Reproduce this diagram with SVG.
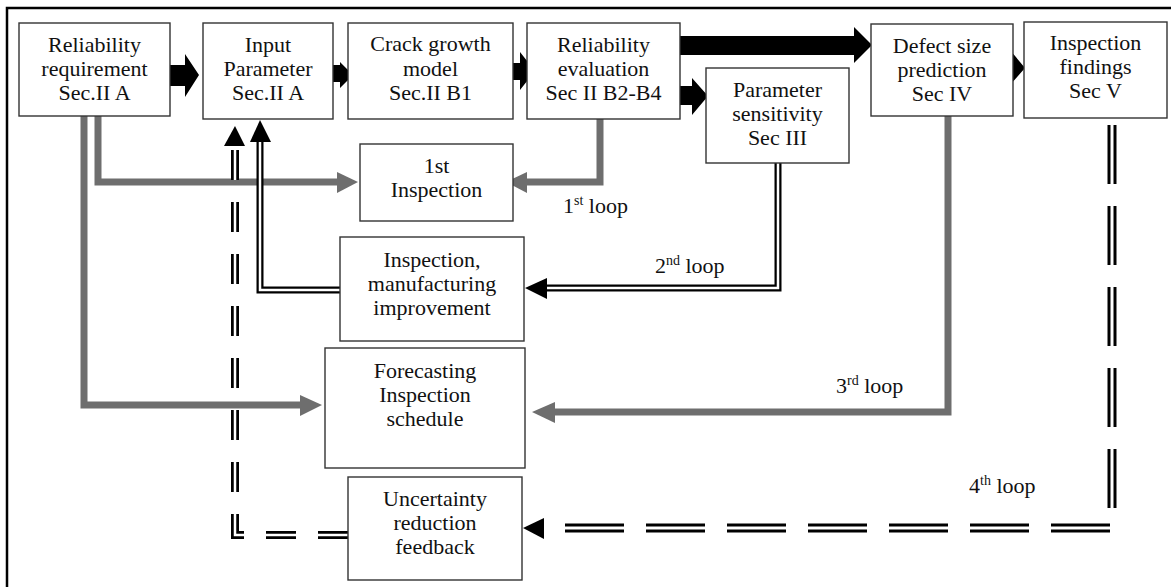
<svg xmlns="http://www.w3.org/2000/svg" width="1171" height="587" viewBox="0 0 1171 587">
<style>
.box{fill:#fff;stroke:#333;stroke-width:1.4}
.t{font-family:'Liberation Serif',serif;font-size:22px;fill:#111;text-anchor:middle}
.lbl{font-family:'Liberation Serif',serif;font-size:22px;fill:#111}
.sup{font-size:14px}
.gray{fill:none;stroke:#6e6e6e;stroke-width:7}
.gh{fill:#6e6e6e}
.blk{fill:#000}
.dbo{fill:none;stroke:#000;stroke-width:7}
.dbi{fill:none;stroke:#fff;stroke-width:2.5}
</style>
<rect width="1171" height="587" fill="#fff"/>
<path d="M7,587 V8 H1171" fill="none" stroke="#000" stroke-width="2.5"/>

<g id="connectors">
  <polygon class="blk" points="170,65 185,65 185,54 199,75 185,97 185,86 170,86"/>
  <polygon class="blk" points="333,65 340,65 340,62 353,75 340,88 340,82 333,82"/>
  <polygon class="blk" points="513,63 520,63 520,52 535,71 520,90 520,80 513,80"/>
  <polygon class="blk" points="680,86 692,86 692,78 708,96 692,115 692,105 680,105"/>
  <polygon class="blk" points="680,36 854,36 854,27 872,45 854,63 854,55 680,55"/>
  <polygon class="blk" points="998,65 1010,65 1010,50 1025,68 1010,85 1010,80 998,80"/>

  <path class="gray" d="M98,116 V182 H338"/>
  <polygon class="gh" points="337,172 358,182 337,193"/>
  <path class="gray" d="M84,116 V405 H301"/>
  <polygon class="gh" points="300,395 322,405 300,416"/>
  <path class="gray" d="M600,119 V182 H526"/>
  <polygon class="gh" points="527,172 506,182 527,193"/>
  <path class="gray" d="M948,116 V412 H554"/>
  <polygon class="gh" points="555,402 532,412 555,423"/>

  <path class="dbo" d="M778,163 V288 H545"/>
  <path class="dbi" d="M778,163 V288 H545"/>
  <polygon class="blk" points="547,278 525,288 547,299"/>
  <path class="dbo" d="M346,290 H260 V142"/>
  <path class="dbi" d="M346,290 H260 V142"/>
  <polygon class="blk" points="250,142 260,120 271,142"/>

  <path d="M1112,125 V528 H550" fill="none" stroke="#000" stroke-width="9" stroke-dasharray="59 22"/>
  <path d="M1112,125 V528 H550" fill="none" stroke="#fff" stroke-width="3" stroke-dasharray="59 22"/>
  <polygon class="blk" points="544,518 523,528 544,539"/>
  <path d="M348,535 H235 V146" fill="none" stroke="#000" stroke-width="8" stroke-dasharray="30 22"/>
  <path d="M348,535 H235 V146" fill="none" stroke="#fff" stroke-width="2.5" stroke-dasharray="30 22"/>
  <polygon class="blk" points="224,146 235,126 245,146"/>
</g>

<g id="n-reliability-requirement">
  <rect class="box" x="19" y="23" width="151" height="93"/>
  <text class="t" x="94.5" y="52">Reliability</text>
  <text class="t" x="94.5" y="76">requirement</text>
  <text class="t" x="94.5" y="100">Sec.II A</text>
</g>
<g id="n-input-parameter">
  <rect class="box" x="203" y="23" width="130" height="96"/>
  <text class="t" x="268" y="52">Input</text>
  <text class="t" x="268" y="76">Parameter</text>
  <text class="t" x="268" y="100">Sec.II A</text>
</g>
<g id="n-crack-growth">
  <rect class="box" x="348" y="23" width="165" height="96"/>
  <text class="t" x="430.5" y="51">Crack growth</text>
  <text class="t" x="430.5" y="76">model</text>
  <text class="t" x="430.5" y="100">Sec.II B1</text>
</g>
<g id="n-reliability-evaluation">
  <rect class="box" x="527" y="23" width="153" height="96"/>
  <text class="t" x="603.5" y="52">Reliability</text>
  <text class="t" x="603.5" y="76">evaluation</text>
  <text class="t" x="603.5" y="100">Sec II B2-B4</text>
</g>
<g id="n-parameter-sensitivity">
  <rect class="box" x="706" y="68" width="143" height="95"/>
  <text class="t" x="777.5" y="97">Parameter</text>
  <text class="t" x="777.5" y="121">sensitivity</text>
  <text class="t" x="777.5" y="145">Sec III</text>
</g>
<g id="n-defect-size">
  <rect class="box" x="871" y="24" width="142" height="92"/>
  <text class="t" x="942" y="53">Defect size</text>
  <text class="t" x="942" y="77">prediction</text>
  <text class="t" x="942" y="101">Sec IV</text>
</g>
<g id="n-inspection-findings">
  <rect class="box" x="1024" y="22" width="143" height="96"/>
  <text class="t" x="1095.5" y="50">Inspection</text>
  <text class="t" x="1095.5" y="74">findings</text>
  <text class="t" x="1095.5" y="98">Sec V</text>
</g>
<g id="n-first-inspection">
  <rect class="box" x="360" y="144" width="153" height="77"/>
  <text class="t" x="436.5" y="173">1st</text>
  <text class="t" x="436.5" y="197">Inspection</text>
</g>
<g id="n-improvement">
  <rect class="box" x="340" y="237" width="184" height="104"/>
  <text class="t" x="432" y="267">Inspection,</text>
  <text class="t" x="432" y="291">manufacturing</text>
  <text class="t" x="432" y="315">improvement</text>
</g>
<g id="n-forecasting">
  <rect class="box" x="325" y="348" width="200" height="120"/>
  <text class="t" x="425" y="378">Forecasting</text>
  <text class="t" x="425" y="402">Inspection</text>
  <text class="t" x="425" y="426">schedule</text>
</g>
<g id="n-uncertainty">
  <rect class="box" x="348" y="477" width="174" height="103"/>
  <text class="t" x="435" y="506">Uncertainty</text>
  <text class="t" x="435" y="530">reduction</text>
  <text class="t" x="435" y="554">feedback</text>
</g>

<g id="labels">
  <text class="lbl" x="563" y="213">1<tspan class="sup" dy="-8">st</tspan><tspan dy="8"> loop</tspan></text>
  <text class="lbl" x="655" y="273">2<tspan class="sup" dy="-8">nd</tspan><tspan dy="8"> loop</tspan></text>
  <text class="lbl" x="836" y="393">3<tspan class="sup" dy="-8">rd</tspan><tspan dy="8"> loop</tspan></text>
  <text class="lbl" x="969" y="493">4<tspan class="sup" dy="-8">th</tspan><tspan dy="8"> loop</tspan></text>
</g>
</svg>
